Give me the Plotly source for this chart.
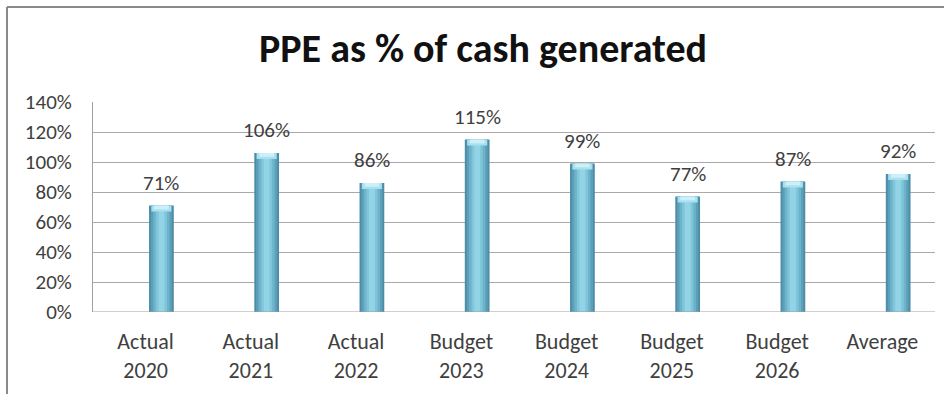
import plotly.graph_objects as go

# Chart data
categories = ["Actual<br>2020", "Actual<br>2021", "Actual<br>2022", "Budget<br>2023",
              "Budget<br>2024", "Budget<br>2025", "Budget<br>2026", "Average"]
ppe_pct = [71, 106, 86, 115, 99, 77, 87, 92]
y_ticks = [0, 20, 40, 60, 80, 100, 120, 140]
y_tick_labels = [f"{v}%" for v in y_ticks]

# Page / plot geometry (pixels)
W, H = 944, 394
L, R, T, B = 93, 9, 102, 82
PW, PH = W - L - R, H - T - B

FONT = "Carlito, Liberation Sans Narrow, Lato, sans-serif"
TEXT = "#3f3f3f"

idx = list(range(len(categories)))
bar_x = [i + 0.15 for i in idx]  # cylinders sit slightly right of the category centre

fig = go.Figure()

# Cylinder look: stacked overlaid bars, dark edges to a light core
layers = [(0.235, "#4d8ca6"), (0.20, "#5c9fb9"), (0.155, "#6db3ca"),
          (0.105, "#80c6da"), (0.055, "#92d4e6")]
for w, c in layers:
    fig.add_trace(go.Bar(x=bar_x, y=ppe_pct, width=w, marker=dict(color=c, line_width=0),
                         hoverinfo="skip", showlegend=False))

# Light rounded top of each cylinder
for cap, w, c in [(4, 0.19, "#a9e0ef"), (2.5, 0.14, "#cdf0f8")]:
    fig.add_trace(go.Bar(x=bar_x, y=[cap] * len(ppe_pct), base=[v - cap for v in ppe_pct],
                         width=w, marker=dict(color=c, line_width=0),
                         hoverinfo="skip", showlegend=False))

# Value labels above each bar
for x, v in zip(bar_x, ppe_pct):
    fig.add_annotation(x=x, y=v, text=f"{v}%", showarrow=False, yanchor="bottom",
                       yshift=8, font=dict(family=FONT, size=21, color=TEXT))

# Frame lines along the top and left of the chart
def px_x(p):
    return (p - L) / PW

def px_y(p):
    return (H - B - p) / PH

frame = dict(color="#8a8a8a", width=2)
fig.add_shape(type="line", xref="paper", yref="paper",
              x0=px_x(7), y0=px_y(7), x1=px_x(W + 5), y1=px_y(7), line=frame)
fig.add_shape(type="line", xref="paper", yref="paper",
              x0=px_x(7), y0=px_y(7), x1=px_x(7), y1=px_y(H + 5), line=frame)

fig.update_layout(
    width=W, height=H,
    margin=dict(l=L, r=R, t=T, b=B, pad=0),
    paper_bgcolor="white", plot_bgcolor="white",
    barmode="overlay",
    title=dict(text="<b>PPE as % of cash generated</b>", x=483 / W, xanchor="center",
               y=1 - 48 / H, yanchor="middle", xref="container", yref="container",
               font=dict(family=FONT, size=40, color="#111111")),
    xaxis=dict(range=[-0.5, 7.5], tickmode="array", tickvals=idx, ticktext=categories,
               showgrid=False, zeroline=False, showline=False, ticks="",
               tickfont=dict(family=FONT, size=22, color=TEXT), ticklabelstandoff=14),
    yaxis=dict(range=[0, 140], tickmode="array", tickvals=y_ticks, ticktext=y_tick_labels,
               showgrid=True, gridcolor="#a9a9a9", gridwidth=1, zeroline=False,
               showline=True, linecolor="#a0a0a0", linewidth=1, ticks="",
               tickfont=dict(family=FONT, size=21, color=TEXT), ticklabelstandoff=16),
)
# Bottom edge of the plot area at 0%
fig.add_shape(type="line", xref="paper", yref="y", x0=0, x1=1, y0=0, y1=0,
              line=dict(color="#a0a0a0", width=1))

fig.write_html("out.html")
